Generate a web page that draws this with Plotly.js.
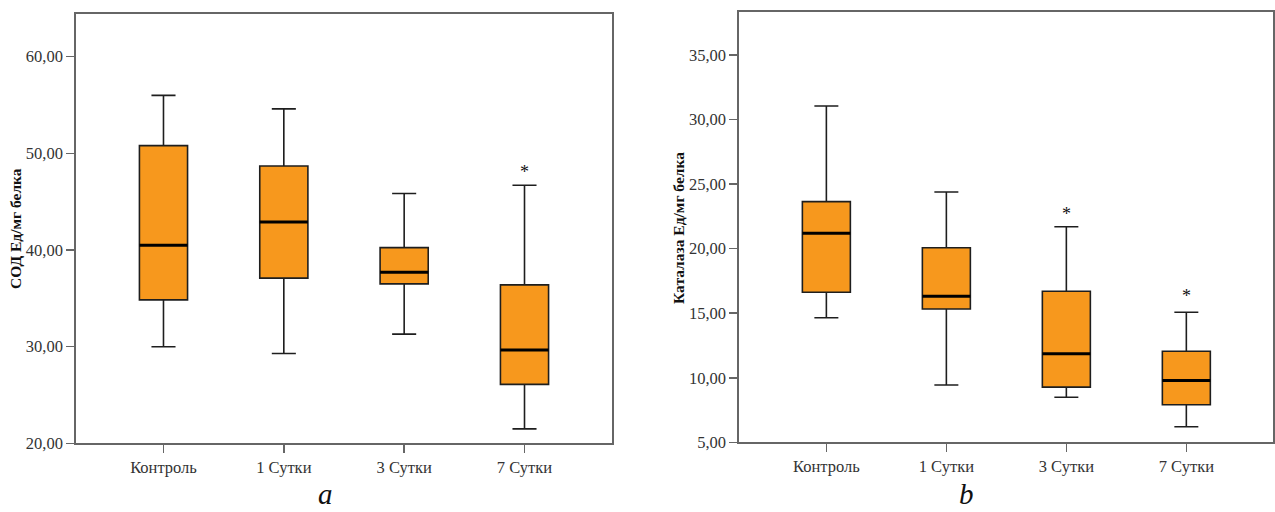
<!DOCTYPE html>
<html>
<head>
<meta charset="utf-8">
<script src="https://cdn.plot.ly/plotly-3.0.1.min.js"></script>
<style>
  html, body { margin: 0; padding: 0; background: #fff; }
  #chart { width: 1275px; height: 512px; }
</style>
</head>
<body>
<div id="chart"></div>
<script>
// Groups shared by both panels
const categories = ['Контроль', '1 Сутки', '3 Сутки', '7 Сутки'];

// Panel a: СОД, Ед/мг белка (five-number summaries)
const sodLower  = [30.0, 29.3, 31.3, 21.5];
const sodQ1     = [34.85, 37.1, 36.5, 26.1];
const sodMedian = [40.5, 42.9, 37.7, 29.66];
const sodQ3     = [50.8, 48.7, 40.25, 36.4];
const sodUpper  = [56.0, 54.6, 45.85, 46.7];
const sodStars  = [null, null, null, 48.4];

// Panel b: Каталаза, Ед/мг белка
const catLower  = [14.65, 9.44, 8.49, 6.21];
const catQ1     = [16.62, 15.33, 9.28, 7.91];
const catMedian = [21.19, 16.31, 11.86, 9.8];
const catQ3     = [23.64, 20.07, 16.7, 12.05];
const catUpper  = [31.05, 24.39, 21.7, 15.07];
const catStars  = [null, null, 22.9, 16.6];

// Axis ticks
const sodTickVals = [20, 30, 40, 50, 60];
const sodTickText = ['20,00', '30,00', '40,00', '50,00', '60,00'];
const catTickVals = [5, 10, 15, 20, 25, 30, 35];
const catTickText = ['5,00', '10,00', '15,00', '20,00', '25,00', '30,00', '35,00'];

const SERIF = 'Liberation Serif';
const ORANGE = '#F7981D';
const BOX_W = 0.4;
const pos = categories.map((_, i) => i);

function boxTrace(xa, ya, lo, q1, med, q3, hi) {
  return {
    type: 'box', xaxis: xa, yaxis: ya,
    x: pos, lowerfence: lo, q1: q1, median: med, q3: q3, upperfence: hi,
    width: BOX_W, whiskerwidth: 0.5,
    fillcolor: ORANGE,
    line: { color: '#1e1e1e', width: 1.6 },
    boxpoints: false, hoverinfo: 'skip', showlegend: false
  };
}

// Thick median bars drawn over each box
function medianShapes(xref, yref, med) {
  return med.map((m, i) => ({
    type: 'line', xref: xref, yref: yref,
    x0: i - BOX_W / 2, x1: i + BOX_W / 2, y0: m, y1: m,
    line: { color: '#000', width: 3 }
  }));
}

function starNotes(xref, yref, stars) {
  const out = [];
  stars.forEach((s, i) => {
    if (s === null) return;
    out.push({
      xref: xref, yref: yref, x: i, y: s, text: '*', showarrow: false,
      yanchor: 'middle', yshift: -3,
      font: { family: SERIF, size: 18, color: '#111' }
    });
  });
  return out;
}

function xAxis(domain, anchor) {
  return {
    domain: domain, anchor: anchor,
    range: [-0.725, 3.725],
    tickmode: 'array', tickvals: pos, ticktext: categories,
    showline: true, mirror: true, linecolor: '#666', linewidth: 2,
    ticks: 'outside', ticklen: 8, tickwidth: 1.5, tickcolor: '#666',
    showgrid: false, zeroline: false, fixedrange: true,
    tickfont: { family: SERIF, size: 16.5, color: '#333' }
  };
}
function yAxis(domain, anchor, range, vals, text) {
  return {
    domain: domain, anchor: anchor, range: range,
    tickmode: 'array', tickvals: vals, ticktext: text,
    showline: true, mirror: true, linecolor: '#666', linewidth: 2,
    ticks: 'outside', ticklen: 8, tickwidth: 1.5, tickcolor: '#666',
    showgrid: false, zeroline: false, fixedrange: true,
    tickfont: { family: SERIF, size: 16.5, color: '#333' }
  };
}

const layout = {
  width: 1275, height: 512,
  margin: { l: 0, r: 0, t: 0, b: 0 },
  paper_bgcolor: '#fff', plot_bgcolor: '#fff',
  showlegend: false,
  xaxis:  xAxis([0.0598, 0.4798], 'y'),
  yaxis:  yAxis([0.134, 0.9727], 'x', [20, 64.42], sodTickVals, sodTickText),
  xaxis2: xAxis([0.5799, 0.9987], 'y2'),
  yaxis2: yAxis([0.136, 0.976], 'x2', [5, 38.3], catTickVals, catTickText),
  shapes: medianShapes('x', 'y', sodMedian).concat(medianShapes('x2', 'y2', catMedian)),
  annotations: [
    { xref: 'paper', yref: 'paper', x: 15.5 / 1275, y: 1 - 228.5 / 512,
      text: '<b>СОД Ед/мг белка</b>', textangle: -90, showarrow: false,
      xanchor: 'center', yanchor: 'middle',
      font: { family: SERIF, size: 15.5, color: '#111' } },
    { xref: 'paper', yref: 'paper', x: 678.5 / 1275, y: 1 - 227.5 / 512,
      text: '<b>Каталаза Ед/мг белка</b>', textangle: -90, showarrow: false,
      xanchor: 'center', yanchor: 'middle',
      font: { family: SERIF, size: 15.5, color: '#111' } },
    { xref: 'paper', yref: 'paper', x: 325.5 / 1275, y: 0,
      text: '<i>a</i>', showarrow: false, xanchor: 'center', yanchor: 'bottom',
      font: { family: SERIF, size: 29, color: '#111' } },
    { xref: 'paper', yref: 'paper', x: 966 / 1275, y: 0,
      text: '<i>b</i>', showarrow: false, xanchor: 'center', yanchor: 'bottom',
      font: { family: SERIF, size: 29, color: '#111' } }
  ].concat(starNotes('x', 'y', sodStars), starNotes('x2', 'y2', catStars))
};

const data = [
  boxTrace('x', 'y', sodLower, sodQ1, sodMedian, sodQ3, sodUpper),
  boxTrace('x2', 'y2', catLower, catQ1, catMedian, catQ3, catUpper)
];

Plotly.newPlot('chart', data, layout, { displayModeBar: false, staticPlot: true });
</script>
</body>
</html>
